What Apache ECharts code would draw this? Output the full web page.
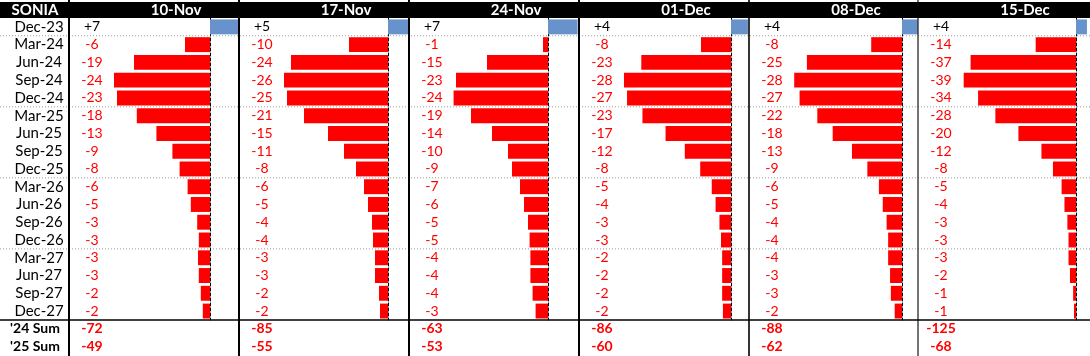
<!DOCTYPE html>
<html><head><meta charset="utf-8">
<script src="https://cdn.jsdelivr.net/npm/echarts@6/dist/echarts.min.js"></script>
<style>html,body{margin:0;padding:0;background:#fff}#c{width:1090px;height:356px}</style>
</head><body><div id="c"></div>
<script>
// ---- data ----
const rowLabels = ['Dec-23','Mar-24','Jun-24','Sep-24','Dec-24','Mar-25','Jun-25','Sep-25','Dec-25','Mar-26','Jun-26','Sep-26','Dec-26','Mar-27','Jun-27','Sep-27','Dec-27'];
const sumLabels = ["'24 Sum", "'25 Sum"];
const panelDates = ['10-Nov','17-Nov','24-Nov','01-Dec','08-Dec','15-Dec'];
const values10Nov = [7.0, -6.25, -19, -24, -23.25, -18.3, -13.4, -9.4, -7.6, -5.6, -4.8, -3.2, -2.8, -3.0, -2.8, -2.3, -1.8];
const values17Nov = [5.2, -9.75, -24.25, -26, -25.25, -21, -15, -11, -8, -6, -5, -4, -3.75, -3.25, -3.25, -2.25, -2.0];
const values24Nov = [7.4, -1.25, -15.25, -23, -23.6, -19.25, -14, -10, -9, -7, -6, -5, -4.6, -4.4, -4.4, -3.85, -3.1];
const values01Dec = [4.4, -7.8, -23.3, -27.8, -27, -23, -17, -12, -8, -5, -4, -3, -2.6, -2.3, -2.3, -2.3, -2.1];
const values08Dec = [4.1, -8, -24.7, -28, -26.6, -22, -18, -13, -9, -6, -5, -4, -3.6, -3.6, -3.1, -2.9, -1.9];
const values15Dec = [3.8, -14, -36.6, -39, -34, -28, -20, -12, -8, -5, -4, -3, -2.6, -2.6, -2.1, -1.0, -0.7];
const sums24 = [-72, -85, -63, -86, -88, -125];
const sums25 = [-49, -55, -53, -60, -62, -68];

const panelValues = [values10Nov, values17Nov, values24Nov, values01Dec, values08Dec, values15Dec];

// ---- layout ----
const TOP = 18, ROW_H = 17.76;
const panelEdges = [69, 239, 409, 579, 749, 918, 1087.5];
const zeroX = [210, 388, 548, 731, 902, 1076];
const pxPerUnit = [4.0, 4.0, 4.0, 3.85, 3.85, 2.88];
const lineWidths = [2, 2, 2, 2, 1.6, 1.1];
const FONT = 'Lato, "Open Sans", sans-serif';
const RED = '#ff0000', BLUE = '#6792cc';
const FS = 14, FS_ROW = 15, FS_HEAD = 15;

function fmt(v) { const r = Math.round(Math.abs(v)); return (v >= 0 ? '+' : '-') + r; }

const grid = [], xAxis = [], yAxis = [], series = [], graphic = [];

graphic.push({type:'rect', z:0, shape:{x:0, y:2, width:1090, height:16}, style:{fill:'#000'}});
graphic.push({type:'text', z:20, x:35, y:10.5, style:{text:'SONIA', fill:'#fff', font:'bold '+FS_HEAD+'px '+FONT, textAlign:'center', textVerticalAlign:'middle'}});

[1,5,9,13].forEach(k => {
  const y = TOP + k*ROW_H;
  graphic.push({type:'line', z:0, shape:{x1:0, y1:y, x2:1090, y2:y}, style:{stroke:'#9a9a9a', lineWidth:1, lineDash:[1,2]}});
});
graphic.push({type:'line', z:15, shape:{x1:0, y1:TOP+17*ROW_H, x2:1090, y2:TOP+17*ROW_H}, style:{stroke:'#000', lineWidth:1.5}});

for (let i = 0; i < 6; i++) {
  const L = panelEdges[i], R = panelEdges[i+1];
  const vals = panelValues[i];
  const gTop = grid.length;
  grid.push({left:L, top:TOP, width:R-L, height:17*ROW_H});
  grid.push({left:L, top:TOP+17*ROW_H, width:R-L, height:2*ROW_H});
  const xTop = xAxis.length;
  xAxis.push({type:'value', gridIndex:gTop, min:-(zeroX[i]-L)/pxPerUnit[i], max:(R-zeroX[i])/pxPerUnit[i], show:false});
  xAxis.push({type:'value', gridIndex:gTop+1, min:0, max:1, show:false});

  const yVal = yAxis.length;
  yAxis.push({type:'category', gridIndex:gTop, data:rowLabels, inverse:true, position:'left',
    axisLine:{show:false, onZero:false}, axisTick:{show:false}, splitLine:{show:false},
    axisLabel:{inside:true, interval:0, align:'center', margin:23,
      formatter:(v, idx) => (vals[idx] >= 0 ? '{p|' : '{n|') + fmt(vals[idx]) + '}',
      rich:{p:{color:'#000', fontSize:FS, fontFamily:FONT}, n:{color:RED, fontSize:FS, fontFamily:FONT}}}});
  yAxis.push({type:'category', gridIndex:gTop, data:rowLabels, inverse:true,
    axisLine:{show:true, onZero:true, lineStyle:{color:'#000', width:1, type:[3,2]}}, axisTick:{show:false}, axisLabel:{show:false}, splitLine:{show:false}});
  const sumVals = [sums24[i], sums25[i]];
  yAxis.push({type:'category', gridIndex:gTop+1, data:sumLabels, inverse:true, position:'left',
    axisLine:{show:false, onZero:false}, axisTick:{show:false}, splitLine:{show:false},
    axisLabel:{inside:true, interval:0, align:'center', margin:23, color:RED, fontWeight:'bold', fontSize:FS, fontFamily:FONT,
      formatter:(v, idx) => fmt(sumVals[idx])}});
  if (i === 0) {
    yAxis.push({type:'category', gridIndex:gTop, data:rowLabels, inverse:true, position:'left',
      axisLine:{show:false, onZero:false}, axisTick:{show:false}, splitLine:{show:false},
      axisLabel:{interval:0, align:'center', margin:30, color:'#000', fontSize:FS_ROW, fontFamily:FONT}});
    yAxis.push({type:'category', gridIndex:gTop+1, data:sumLabels, inverse:true, position:'left',
      axisLine:{show:false, onZero:false}, axisTick:{show:false}, splitLine:{show:false},
      axisLabel:{interval:0, align:'center', margin:34, color:'#000', fontWeight:'bold', fontSize:FS, fontFamily:FONT}});
  }
  series.push({type:'bar', xAxisIndex:xTop, yAxisIndex:yVal, barCategoryGap:'16%', silent:true,
    data: vals.map(v => ({value:v, itemStyle:{color: v >= 0 ? BLUE : RED}}))});

  graphic.push({type:'text', z:20, x:L+107, y:10.5, style:{text:panelDates[i], fill:'#fff', font:'bold '+FS_HEAD+'px '+FONT, textAlign:'center', textVerticalAlign:'middle'}});
  graphic.push({type:'line', z:16, shape:{x1:L, y1:0, x2:L, y2:356}, style:{stroke:'#000', lineWidth:lineWidths[i]}});
}

const chart = echarts.init(document.getElementById('c'), null, {renderer:'canvas'});
chart.setOption({animation:false, grid, xAxis, yAxis, series, graphic});
</script></body></html>
